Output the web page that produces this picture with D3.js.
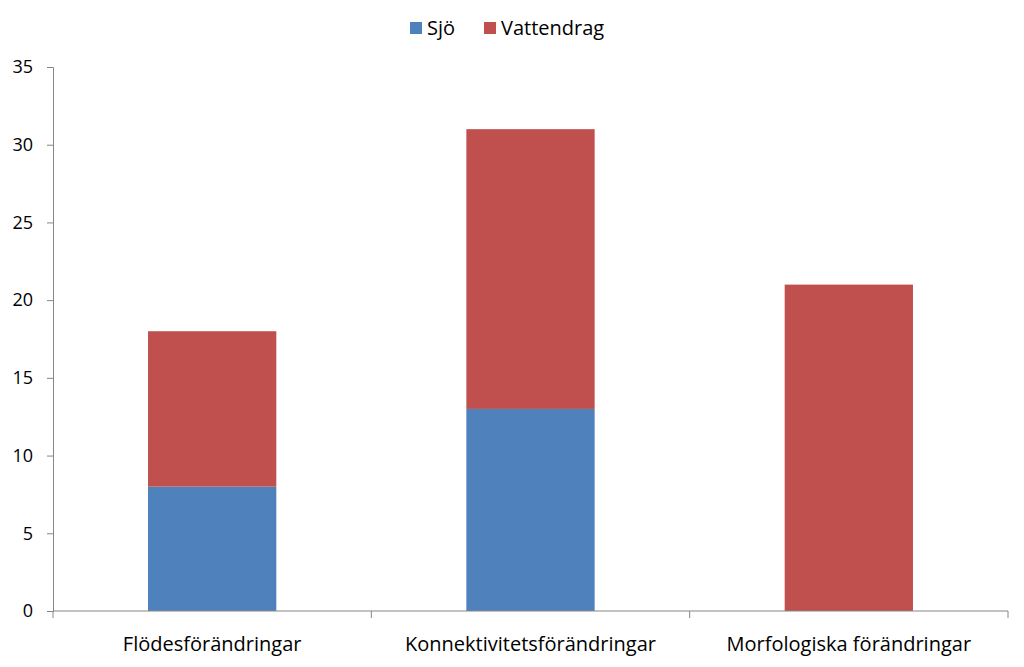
<!DOCTYPE html>
<html><head><meta charset="utf-8">
<script src="https://cdn.jsdelivr.net/npm/d3@7"></script>
<style>body{margin:0;background:#fff}svg{font-family:"Open Sans",sans-serif}</style>
</head><body><div id="chart"></div>
<script>
const categories = ["Flödesförändringar", "Konnektivitetsförändringar", "Morfologiska förändringar"];
const sjo = [8, 13, 0];
const vattendrag = [10, 18, 21];
const seriesNames = ["Sjö", "Vattendrag"];
const colors = ["#4f81bd", "#c0504d"];
const yTicks = [0, 5, 10, 15, 20, 25, 30, 35];

const width = 1024, height = 667, margin = {left: 53, right: 16, top: 67, bottom: 56};
const svg = d3.select("#chart").append("svg").attr("width", width).attr("height", height);

const x = d3.scaleBand().domain(categories)
  .range([margin.left, width - margin.right]).paddingInner(0.597).paddingOuter(0.2985);
const y = d3.scaleLinear().domain([0, 35]).range([height - margin.bottom, margin.top]);

const stackData = categories.map((c, i) => ({cat: c, "Sjö": sjo[i], "Vattendrag": vattendrag[i]}));
const stacked = d3.stack().keys(seriesNames)(stackData);

svg.append("g").selectAll("g").data(stacked).enter().append("g")
  .attr("fill", (d, i) => colors[i])
  .selectAll("rect").data(d => d).enter().append("rect")
  .attr("x", d => x(d.data.cat))
  .attr("width", x.bandwidth())
  .attr("y", d => y(d[1]))
  .attr("height", d => y(d[0]) - y(d[1]));

// y axis
const yAxis = svg.append("g").attr("transform", `translate(${margin.left},0)`)
  .call(d3.axisLeft(y).tickValues(yTicks).tickSize(6).tickPadding(14));
yAxis.selectAll("path,line").attr("stroke", "#868686");
yAxis.selectAll("text").attr("font-size", 18).attr("fill", "#000").attr("font-family", "Open Sans");

// x axis
const xg = svg.append("g").attr("transform", `translate(0,${y(0)})`);
xg.append("line").attr("x1", margin.left).attr("x2", width - margin.right)
  .attr("stroke", "#868686");
const step = x.step();
const bounds = d3.range(categories.length + 1).map(i => margin.left + i * (width - margin.left - margin.right) / categories.length);
xg.selectAll(".tk").data(bounds).enter().append("line")
  .attr("x1", d => d).attr("x2", d => d).attr("y1", 0).attr("y2", 7).attr("stroke", "#868686");
xg.selectAll(".lbl").data(categories).enter().append("text")
  .attr("x", d => x(d) + x.bandwidth() / 2).attr("y", 40)
  .attr("text-anchor", "middle").attr("font-size", 20).text(d => d);

// legend
const lg = svg.append("g").attr("transform", "translate(410,28)");
const lx = [0, 74];
seriesNames.forEach((s, i) => {
  lg.append("rect").attr("x", lx[i]).attr("y", -6).attr("width", 12).attr("height", 12).attr("fill", colors[i]);
  lg.append("text").attr("x", lx[i] + 17).attr("y", 7).attr("font-size", 20).text(s);
});
</script></body></html>
